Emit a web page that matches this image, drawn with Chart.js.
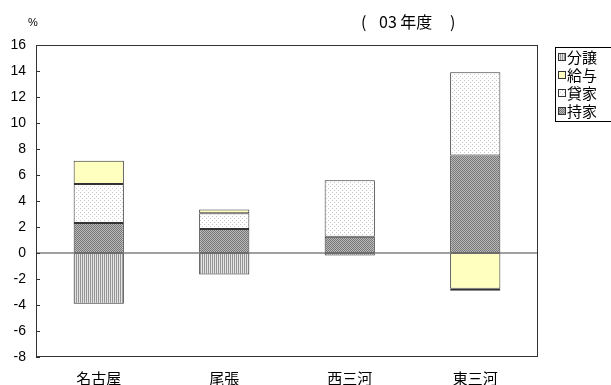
<!DOCTYPE html>
<html>
<head>
<meta charset="utf-8">
<script src="https://cdn.jsdelivr.net/npm/chart.js@4"></script>
<style>
  html, body { margin: 0; padding: 0; background: #fff; }
  #wrap { width: 611px; height: 385px; position: relative; }
</style>
</head>
<body>
<div id="wrap"><canvas id="c" width="611" height="385"></canvas></div>
<script>
// Regions and housing-start change by tenure (percentage points)
const categories = ['名古屋', '尾張', '西三河', '東三河'];
const ownedHomes = [2.3, 1.85, 1.25, 7.5];     // 持家
const rentalHomes = [3.0, 1.2, 4.35, 6.4];     // 貸家
const companyHomes = [1.8, 0.3, 0, -2.75];     // 給与
const homesForSale = [-3.9, -1.65, -0.2, -0.15]; // 分譲
const yTicks = [-8, -6, -4, -2, 0, 2, 4, 6, 8, 10, 12, 14, 16];

const CJK = '"Noto Sans CJK JP", sans-serif';
const LATIN = '"Liberation Sans", Arial, sans-serif';

function makePattern(w, h, paint) {
  const c = document.createElement('canvas');
  c.width = w; c.height = h;
  const g = c.getContext('2d');
  paint(g);
  return g.createPattern(c, 'repeat');
}
const ctx = document.getElementById('c').getContext('2d');

// fills
const crossHatch = makePattern(2, 2, g => {
  g.fillStyle = '#b8b8b8'; g.fillRect(0, 0, 2, 2);
  g.fillStyle = '#787878'; g.fillRect(0, 0, 1, 1); g.fillRect(1, 1, 1, 1);
});
const dotted = makePattern(4, 4, g => {
  g.fillStyle = '#ffffff'; g.fillRect(0, 0, 4, 4);
  g.fillStyle = '#c8c8c8'; g.fillRect(0, 0, 1, 1); g.fillRect(2, 2, 1, 1);
});
const stripes = makePattern(2, 2, g => {
  g.fillStyle = '#e4e4e4'; g.fillRect(0, 0, 2, 2);
  g.fillStyle = '#959595'; g.fillRect(0, 0, 1, 2);
});
const yellow = '#ffffc0';

// inward tick marks, frame around the plot and zero line
const framePlugin = {
  id: 'frame',
  afterDatasetsDraw(chart) {
    const { ctx, chartArea: a, scales: { y } } = chart;
    ctx.save();
    ctx.strokeStyle = '#808080';
    ctx.lineWidth = 1.5;
    const z = y.getPixelForValue(0);
    ctx.beginPath(); ctx.moveTo(a.left, z); ctx.lineTo(a.right, z); ctx.stroke();
    ctx.strokeStyle = '#333';
    ctx.lineWidth = 1;
    ctx.strokeRect(a.left + 0.5, a.top + 0.5, a.right - a.left - 1, a.bottom - a.top - 1);
    ctx.beginPath();
    yTicks.forEach(v => {
      const py = Math.round(y.getPixelForValue(v)) + 0.5;
      ctx.moveTo(a.left, py); ctx.lineTo(a.left + 4, py);
    });
    ctx.stroke();
    ctx.restore();
  }
};

// unit mark, year note and legend box
const notesPlugin = {
  id: 'notes',
  afterDraw(chart) {
    const { ctx } = chart;
    ctx.save();
    ctx.fillStyle = '#000';
    ctx.textBaseline = 'middle';
    ctx.font = '11px ' + LATIN;
    ctx.textAlign = 'center';
    ctx.fillText('%', 33, 23);
    ctx.font = '16px ' + CJK;
    ctx.textAlign = 'left';
    ctx.fillText('(', 361, 22);
    ctx.fillText('03 年度', 379, 22);
    ctx.fillText(')', 450, 22);

    // legend, last series listed first
    const lx = 555, ly = 47, rowH = 18;
    const items = chart.data.datasets.slice().reverse();
    ctx.strokeStyle = '#000';
    ctx.lineWidth = 1;
    ctx.strokeRect(lx + 0.5, ly + 0.5, 80, rowH * items.length + 2);
    ctx.font = '15px ' + CJK;
    items.forEach((ds, i) => {
      const cy = ly + 10 + i * rowH;
      ctx.fillStyle = ds.backgroundColor;
      ctx.fillRect(lx + 3, cy - 4, 7, 7);
      ctx.strokeStyle = '#333';
      ctx.strokeRect(lx + 3.5, cy - 3.5, 7, 7);
      ctx.fillStyle = '#000';
      ctx.fillText(ds.label, lx + 12, cy);
    });
    ctx.restore();
  }
};

const common = { borderColor: '#333', borderWidth: 1, borderSkipped: false };

new Chart(ctx, {
  type: 'bar',
  data: {
    labels: categories,
    datasets: [
      { label: '持家', data: ownedHomes, backgroundColor: crossHatch, ...common },
      { label: '貸家', data: rentalHomes, backgroundColor: dotted, ...common },
      { label: '給与', data: companyHomes, backgroundColor: yellow, ...common },
      { label: '分譲', data: homesForSale, backgroundColor: stripes, ...common }
    ]
  },
  options: {
    responsive: false,
    animation: false,
    devicePixelRatio: 1,
    layout: { padding: { top: 45, right: 73, left: 0, bottom: 0 } },
    datasets: { bar: { categoryPercentage: 1, barPercentage: 0.4 } },
    plugins: { legend: { display: false }, tooltip: { enabled: false } },
    scales: {
      x: {
        stacked: true,
        grid: { display: false, drawTicks: false },
        border: { display: false },
        ticks: { padding: 12, color: '#000', font: { family: CJK, size: 15 } },
        afterFit(s) { s.height = 28; }
      },
      y: {
        stacked: true,
        min: -8, max: 16,
        afterBuildTicks(s) { s.ticks = yTicks.map(v => ({ value: v })); },
        grid: { display: false, drawTicks: false },
        border: { display: false },
        ticks: { padding: 10, color: '#000', font: { family: LATIN, size: 14 } },
        afterFit(s) { s.width = 36; }
      }
    }
  },
  plugins: [framePlugin, notesPlugin]
});
</script>
</body>
</html>
